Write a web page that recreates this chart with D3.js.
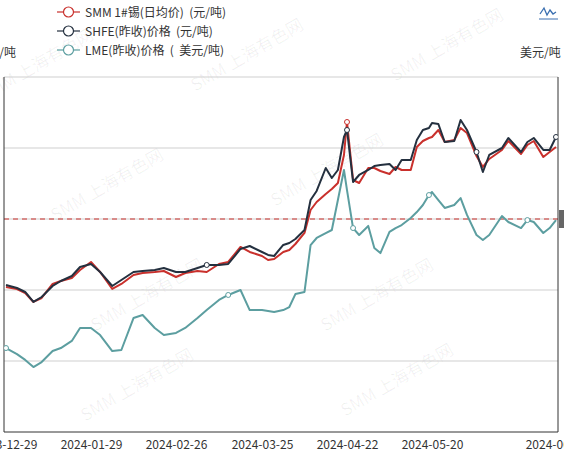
<!DOCTYPE html>
<html>
<head>
<meta charset="utf-8">
<script src="https://cdn.jsdelivr.net/npm/d3@7"></script>
<style>
  body { margin: 0; background: #fff; }
  text { font-family: "Noto Sans CJK SC", "Noto Sans", sans-serif; white-space: pre; }
</style>
</head>
<body>
<script>
// data
var dates = ["2023-12-29","2024-01-02","2024-01-05","2024-01-08","2024-01-11","2024-01-15","2024-01-18","2024-01-22","2024-01-25",
  "2024-01-29","2024-02-01","2024-02-05","2024-02-08","2024-02-12","2024-02-15","2024-02-19","2024-02-22",
  "2024-02-26","2024-02-29","2024-03-04","2024-03-07","2024-03-11","2024-03-14","2024-03-18","2024-03-21",
  "2024-03-25","2024-03-27","2024-03-29","2024-04-01","2024-04-03","2024-04-05","2024-04-08","2024-04-10","2024-04-12",
  "2024-04-15","2024-04-17","2024-04-19","2024-04-21","2024-04-22","2024-04-24","2024-04-26","2024-04-29","2024-05-01",
  "2024-05-03","2024-05-06","2024-05-08","2024-05-10","2024-05-13","2024-05-15","2024-05-17","2024-05-19","2024-05-20",
  "2024-05-22","2024-05-24","2024-05-27","2024-05-29","2024-05-31","2024-06-03","2024-06-05","2024-06-07","2024-06-11",
  "2024-06-13","2024-06-17","2024-06-19","2024-06-21","2024-06-24","2024-06-26","2024-06-28"];

var shfe = [212120,210850,209160,204940,207050,211700,213810,215920,219720,
  220990,217610,211700,214230,217610,218030,218460,219300,
  217610,217610,219300,220570,220570,220990,227330,228600,
  226060,224800,224370,229020,229870,231560,235360,248030,251840,
  261550,257330,260710,274650,277610,255640,258600,260710,262400,
  262820,263240,260710,264930,264930,273380,277610,278450,280570,
  280140,272540,272960,281830,277610,268310,259860,267050,270000,
  274230,268310,272540,274230,269160,269160,274650];

var smm = [211280,210430,208740,204940,206630,212540,213810,215080,218460,
  221840,217610,210430,212540,216340,217190,217610,218030,
  215500,217190,218030,217610,220990,221840,228180,226060,
  224370,222680,223100,226060,226910,229440,234090,243810,247190,
  250570,252680,255210,267050,280990,256480,255210,261550,261550,
  260290,259020,261980,260710,260710,270430,272960,274230,274650,
  277610,272540,273380,278450,276340,266620,261980,265360,269160,
  272960,267470,271270,272960,266200,268310,270430];

var lme = [24730,24390,24060,23660,23940,24560,24730,25130,25860,
  25860,25460,24560,24620,26420,26590,25860,25460,
  25580,25860,26420,26870,27440,27720,28000,26870,
  26870,26820,26760,26870,27040,27770,27890,30530,30930,
  31210,31380,33070,34760,33630,31490,31100,31610,30370,
  30080,31270,31490,31660,32060,32390,32790,33350,33520,
  33070,32620,32790,33180,32230,31100,30820,31100,32170,
  31830,31490,31940,31830,31210,31490,31940];

var tickDates = ["2023-12-29","2024-01-29","2024-02-26","2024-03-25","2024-04-22","2024-05-20","2024-06-28"];
var leftTicks = [150000,180000,210000,240000,270000,300000];
var legendNames = ["SMM 1#锡(日均价)  (元/吨)","SHFE(昨收)价格  (元/吨)","LME(昨收)价格  (  美元/吨)"];
var colors = ["#c9302c","#24303f","#5c9ea0"];

var W = 564, H = 454;
var pL = 4, pR = 558, pT = 77, pB = 432;
var parse = d3.timeParse("%Y-%m-%d");

var svg = d3.select("body").append("svg").attr("width", W).attr("height", H);

// category-style axis: equal spacing between labelled dates
var x = d3.scaleTime()
  .domain(tickDates.map(parse))
  .range([6, 91, 176, 262, 347, 432, 556]);
var yL = d3.scaleLinear().domain([150000, 300000]).range([pB, pT]);
var yR = d3.scaleLinear().domain([20000, 40000]).range([pB, pT]);

// watermarks
var wm = [[40,70],[250,60],[450,50],[110,190],[330,175],[150,300],[380,300],[140,390],[400,385]];
svg.selectAll(".wm").data(wm).enter().append("text")
  .attr("transform", d => "translate(" + d[0] + "," + d[1] + ") rotate(-30)")
  .attr("text-anchor", "middle").attr("font-size", 17)
  .attr("fill", "#000").attr("fill-opacity", 0.06)
  .text("SMM 上海有色网");

// grid
svg.selectAll(".grid").data(leftTicks).enter().append("line")
  .attr("x1", pL).attr("x2", pR)
  .attr("y1", d => yL(d)).attr("y2", d => yL(d))
  .attr("stroke", d => d == 150000 ? "#333" : "#cfcfcf").attr("stroke-width", 1);

// red dashed line
svg.append("line").attr("x1", pL).attr("x2", pR)
  .attr("y1", yL(240000)).attr("y2", yL(240000))
  .attr("stroke", "#c9302c").attr("stroke-dasharray", "5,4").attr("stroke-width", 1);
svg.append("rect").attr("x", pR + 1).attr("y", yL(240000) - 9).attr("width", 6).attr("height", 18).attr("fill", "#666");

// vertical axis lines
svg.append("line").attr("x1", pL).attr("x2", pL).attr("y1", pT).attr("y2", pB).attr("stroke", "#333");
svg.append("line").attr("x1", pR).attr("x2", pR).attr("y1", pT).attr("y2", pB).attr("stroke", "#333");

// x axis labels
var xAxis = d3.axisBottom(x).tickValues(tickDates.map(parse)).tickFormat(d3.timeFormat("%Y-%m-%d")).tickSize(0);
var gX = svg.append("g").attr("transform", "translate(0," + pB + ")").call(xAxis);
gX.select(".domain").remove();
gX.selectAll("text").attr("font-size", 12).attr("fill", "#333").attr("dy", "1.2em")
  .style("font-family", "'Noto Sans CJK SC', sans-serif");

// units
svg.append("text").attr("x", 16).attr("y", 57).attr("text-anchor", "end").attr("font-size", 12).attr("fill", "#333").text("元/吨");
svg.append("text").attr("x", 520).attr("y", 57).attr("font-size", 12).attr("fill", "#333").text("美元/吨");

// lines
svg.append("clipPath").attr("id", "clip").append("rect").attr("x", pL).attr("y", 0).attr("width", pR - pL).attr("height", pB);
var series = [
  {vals: smm, y: yL, c: colors[0], marks: [38]},
  {vals: shfe, y: yL, c: colors[1], marks: [20, 38, 57, 67]},
  {vals: lme, y: yR, c: colors[2], marks: [0, 22, 39, 50, 63]}
];
var plot = svg.append("g").attr("clip-path", "url(#clip)");
series.forEach(function(s) {
  var line = d3.line().x((d, i) => x(parse(dates[i]))).y(d => s.y(d));
  plot.append("path").datum(s.vals).attr("d", line)
    .attr("fill", "none").attr("stroke", s.c).attr("stroke-width", 2).attr("stroke-linejoin", "round");
  plot.selectAll(null).data(s.marks).enter().append("circle")
    .attr("cx", i => x(parse(dates[i]))).attr("cy", i => s.y(s.vals[i])).attr("r", 2.5)
    .attr("fill", "#fff").attr("stroke", s.c).attr("stroke-width", 1);
});

// legend
var lg = svg.append("g");
legendNames.forEach(function(n, i) {
  var yy = 12 + i * 19;
  lg.append("line").attr("x1", 57).attr("x2", 80).attr("y1", yy).attr("y2", yy).attr("stroke", colors[i]).attr("stroke-width", 1.2);
  lg.append("circle").attr("cx", 68.5).attr("cy", yy).attr("r", 5).attr("fill", "#fff").attr("stroke", colors[i]).attr("stroke-width", 1.2);
  lg.append("text").attr("x", 85).attr("y", yy + 4.5).attr("font-size", 12).attr("fill", "#333").text(n);
});

// toolbox icon
svg.append("path").attr("d", "M540,14 L544,8 L547,15 L550,10 L553,14 L556,12")
  .attr("fill", "none").attr("stroke", "#3a6fb0").attr("stroke-width", 1.3);
svg.append("line").attr("x1", 539).attr("x2", 558).attr("y1", 19).attr("y2", 19).attr("stroke", "#3a6fb0");
</script>
</body>
</html>
